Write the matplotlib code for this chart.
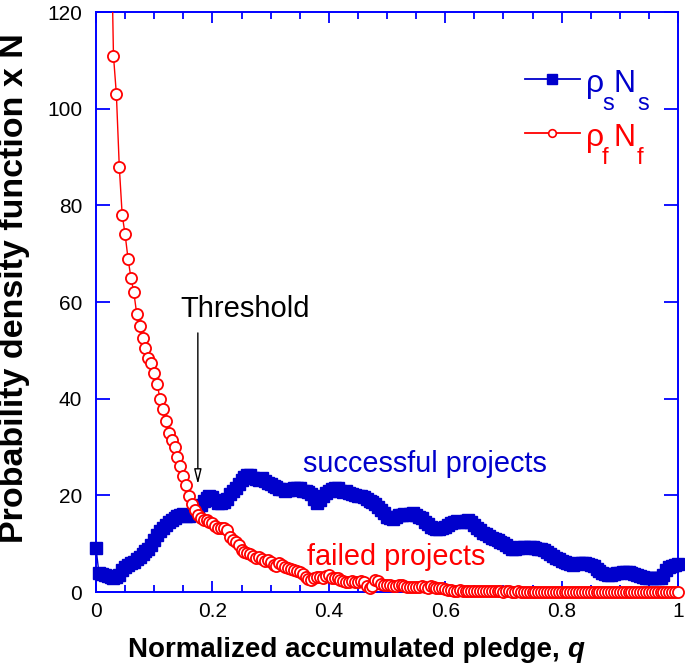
import numpy as np
import matplotlib
matplotlib.use("Agg")
import matplotlib.pyplot as plt
from matplotlib.lines import Line2D
from matplotlib.transforms import Bbox, TransformedBbox
from matplotlib.ticker import MultipleLocator

plt.rcParams['font.family'] = ['Liberation Sans', 'DejaVu Sans']

# ---------------- data ----------------
q_step = 0.005
succ_values = [
    9.1, 4.0, 3.8, 3.6, 3.4, 3.2, 3.0, 3.1, 3.6, 4.6,
    5.2, 5.6, 6.0, 6.3, 6.8, 7.3, 7.9, 8.4, 9.0, 9.8,
    10.8, 11.8, 12.7, 13.3, 13.9, 14.4, 14.9, 15.3, 15.7, 16.0,
    16.1, 15.8, 15.7, 16.0, 16.6, 17.3, 18.0, 18.9, 19.4, 19.8,
    19.6, 19.0, 18.5, 18.4, 18.6, 19.3, 20.2, 20.8, 21.6, 22.3,
    23.1, 23.8, 24.3, 24.2, 23.6, 23.4, 23.2, 23.5, 23.0, 22.6,
    22.4, 22.0, 21.7, 21.4, 21.3, 21.0, 21.1, 21.2, 21.5, 21.6,
    21.5, 21.0, 20.8, 20.6, 20.3, 19.2, 18.5, 19.0, 19.8, 20.4,
    20.9, 21.3, 21.6, 21.5, 21.0, 20.7, 20.8, 20.5, 20.2, 20.0,
    19.9, 19.8, 19.6, 19.3, 18.9, 18.6, 18.2, 17.6, 17.0, 16.3,
    15.6, 15.3, 15.2, 15.5, 15.9, 16.0, 16.2, 16.0, 16.2, 16.3,
    16.0, 15.6, 15.3, 14.5, 14.0, 13.5, 13.3, 13.1, 13.0, 13.2,
    13.5, 13.9, 14.2, 14.4, 14.6, 14.5, 14.4, 14.6, 14.8, 14.5,
    13.8, 13.3, 12.8, 12.3, 11.9, 11.6, 11.2, 11.0, 10.7, 10.4,
    10.1, 9.8, 9.3, 9.0, 9.0, 9.2, 9.3, 9.3, 9.2, 9.3,
    9.3, 9.2, 9.0, 8.8, 8.6, 8.3, 7.9, 7.5, 7.1, 6.8,
    6.5, 6.3, 6.0, 5.8, 5.6, 5.7, 5.9, 6.0, 5.9, 5.8,
    5.6, 5.3, 4.8, 4.3, 4.0, 3.7, 3.5, 3.5, 3.7, 3.9,
    4.0, 4.1, 4.2, 4.2, 4.0, 3.8, 3.6, 3.4, 3.2, 3.0,
    2.8, 2.8, 2.8, 2.8, 2.9, 3.5, 4.6, 5.2, 5.4, 5.5,
    5.7,
]
fail_values = [
    600.0, 400.0, 300.0, 230.0, 180.0, 145.0, 111.0, 103.0, 88.0, 78.0,
    74.0, 69.0, 65.0, 62.0, 57.5, 55.0, 52.5, 50.5, 48.5, 47.3,
    45.3, 43.0, 40.0, 37.8, 35.3, 33.0, 31.4, 30.0, 28.0, 26.0,
    24.0, 22.2, 19.8, 18.2, 17.0, 15.9, 15.3, 14.9, 14.8, 14.5,
    14.2, 13.6, 13.3, 13.2, 13.2, 12.9, 11.4, 10.8, 10.3, 9.8,
    8.7, 8.3, 8.0, 7.8, 7.5, 7.1, 7.2, 6.8, 6.4, 6.6,
    6.3, 5.6, 5.4, 5.9, 5.5, 5.2, 5.0, 4.8, 4.6, 4.3,
    4.2, 3.8, 3.2, 2.6, 2.5, 2.9, 3.1, 3.2, 3.0, 3.4,
    3.5, 3.0, 2.9, 2.8, 2.5, 2.2, 2.1, 2.1, 2.3, 2.0,
    2.1, 2.2, 2.0, 1.3, 0.9, 1.2, 2.4, 2.2, 1.6, 1.5,
    1.4, 1.4, 1.2, 1.3, 1.5, 1.4, 1.2, 1.1, 1.0, 1.0,
    1.0, 1.1, 1.2, 1.0, 0.9, 1.3, 1.0, 0.9, 0.8, 0.8,
    0.6, 0.4, 0.4, 0.3, 0.3, 0.4, 0.3, 0.3, 0.3, 0.2,
    0.3, 0.3, 0.2, 0.2, 0.3, 0.2, 0.2, 0.2, 0.2, 0.2,
    0.1, 0.2, 0.2, 0.1, 0.1, 0.2, 0.1, 0.1, 0.1, 0.1,
    0.1, 0.1, 0.1, 0.1, 0.1, 0.1, 0.1, 0.1, 0.1, 0.1,
    0.1, 0.1, 0.1, 0.1, 0.0, 0.1, 0.1, 0.0, 0.1, 0.0,
    0.0, 0.0, 0.0, 0.0, 0.0, 0.0, 0.0, 0.0, 0.0, 0.0,
    0.0, 0.0, 0.0, 0.0, 0.0, 0.0, 0.0, 0.0, 0.0, 0.0,
    0.0, 0.0, 0.0, 0.0, 0.0, 0.0, 0.0, 0.0, 0.0, 0.0,
    0.0,
]
q_succ = np.arange(len(succ_values)) * q_step
q_fail = np.arange(len(fail_values)) * q_step

x_ticks = [0, 0.2, 0.4, 0.6, 0.8, 1]
x_ticklabels = ["0", "0.2", "0.4", "0.6", "0.8", "1"]
y_ticks = [0, 20, 40, 60, 80, 100, 120]

threshold_q = 0.175
threshold_from, threshold_to = 53.6, 22.3

# ---------------- figure ----------------
W, H = 685, 670
fig = plt.figure(figsize=(W / 100, H / 100), dpi=100)
L, R, T, B = 96, 678, 12, 592
ax = fig.add_axes([L / W, 1 - B / H, (R - L) / W, (B - T) / H])

BLUE_AX = '#0000ff'
BLUE = '#0000cc'
RED = '#ff0000'

clipbox = TransformedBbox(Bbox([[-0.03, -0.05], [1.03, 1.0]]), ax.transAxes)

ln_s, = ax.plot(q_succ, succ_values, color=BLUE, lw=1.0, marker='s',
                ms=9.3, mfc=BLUE, mec=BLUE, mew=1.0, zorder=3)
ln_f, = ax.plot(q_fail, fail_values, color=RED, lw=1.0, marker='o',
                ms=8.0, mfc='white', mec=RED, mew=1.3, zorder=4)
for ln in (ln_s, ln_f):
    ln.set_clip_path(None)
    ln.set_clip_box(clipbox)
    ln.set_clip_on(True)

ax.set_xlim(0, 1)
ax.set_ylim(0, 120)
ax.set_xticks(x_ticks)
ax.set_xticklabels(x_ticklabels)
ax.xaxis.set_minor_locator(MultipleLocator(0.05))
ax.set_yticks(y_ticks)

for sp in ax.spines.values():
    sp.set_color(BLUE_AX)
    sp.set_linewidth(1.4)

ax.tick_params(axis='both', which='both', direction='in', colors=BLUE_AX,
               labelcolor='black', top=True, right=True, labelsize=15)
ax.tick_params(axis='x', which='major', length=8, width=1.3, pad=7)
ax.tick_params(axis='x', which='minor', length=5, width=1.3)
ax.tick_params(axis='y', which='major', length=10, width=1.3, pad=10)

# arrow + annotations
ax.annotate('', xy=(threshold_q, threshold_to), xytext=(threshold_q, threshold_from),
            arrowprops=dict(arrowstyle='-|>,head_length=0.9,head_width=0.22',
                            fc='white', ec='black', lw=1.0, shrinkA=0, shrinkB=0),
            zorder=5)

def px(x, y):
    return x / W, 1 - y / H

fig.text(*px(180, 317), 'Threshold', fontsize=21, color='black', ha='left', va='baseline')
fig.text(*px(303, 472), 'successful projects', fontsize=20.8, color=BLUE, ha='left', va='baseline')
fig.text(*px(307, 565), 'failed projects', fontsize=20.8, color=RED, ha='left', va='baseline')

# axis labels
fig.text(*px(15, 288), 'Probability density function x N', fontsize=24.5, fontweight='bold',
         rotation=90, ha='center', va='center')
fig.text(*px(560, 650), 'Normalized accumulated pledge,', fontsize=20, fontweight='bold',
         ha='right', va='center')
fig.text(*px(567, 650), 'q', fontsize=20, fontweight='bold', fontstyle='italic',
         ha='left', va='center')

# legend (manual)
fig.add_artist(Line2D([525 / W, 580 / W], [1 - 79 / H] * 2, color=BLUE, lw=1.3,
                      transform=fig.transFigure))
fig.add_artist(Line2D([552 / W], [1 - 79 / H], color=BLUE, marker='s', ms=6.5,
                      mfc=BLUE, mec=BLUE, transform=fig.transFigure))
fig.add_artist(Line2D([525 / W, 580 / W], [1 - 133 / H] * 2, color=RED, lw=1.3,
                      transform=fig.transFigure))
fig.add_artist(Line2D([552 / W], [1 - 133 / H], color=RED, marker='o', ms=5.5,
                      mfc='white', mec=RED, mew=1.2, transform=fig.transFigure))

fig.text(*px(586, 92), 'ρ', fontsize=23, color=BLUE, va='baseline')
fig.text(*px(602, 110), 's', fontsize=17, color=BLUE, va='baseline')
fig.text(*px(614, 92), 'N', fontsize=22, color=BLUE, va='baseline')
fig.text(*px(637, 110), 's', fontsize=17, color=BLUE, va='baseline')
fig.text(*px(586, 146), 'ρ', fontsize=23, color=RED, va='baseline')
fig.text(*px(602, 164), 'f', fontsize=17, color=RED, va='baseline')
fig.text(*px(614, 146), 'N', fontsize=22, color=RED, va='baseline')
fig.text(*px(637, 164), 'f', fontsize=17, color=RED, va='baseline')

fig.savefig('out.png', dpi=100)
